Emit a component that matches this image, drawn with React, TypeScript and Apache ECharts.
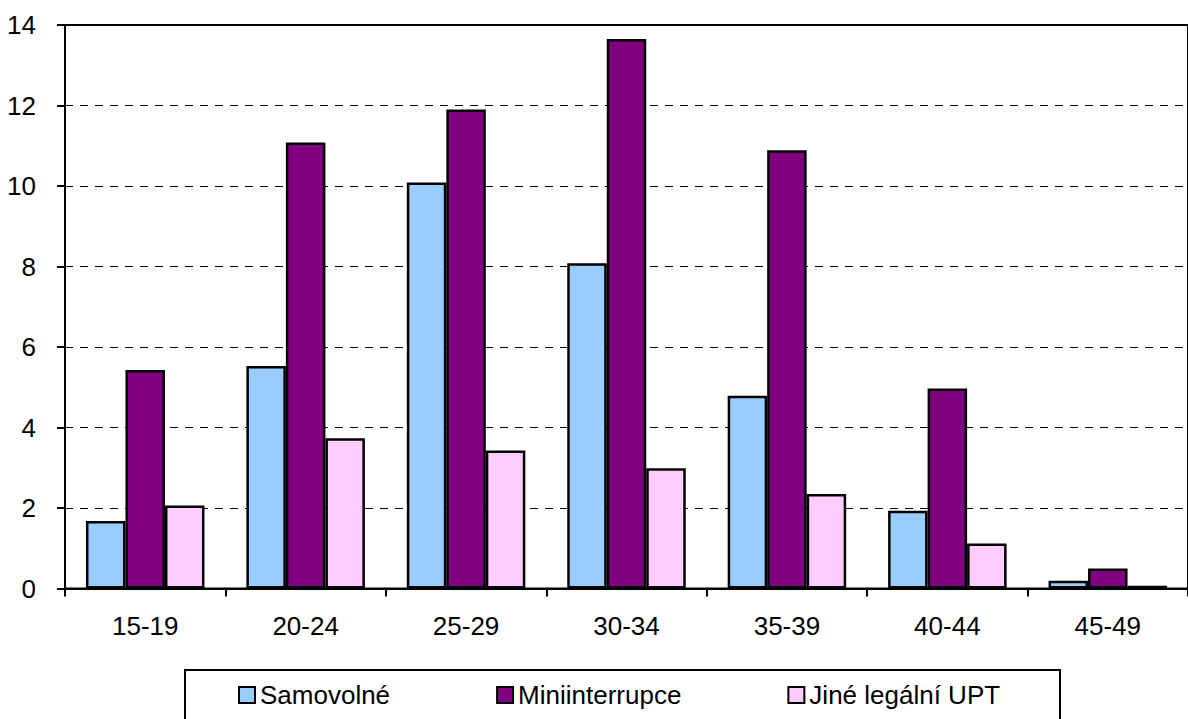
import React, { useEffect, useRef } from "react";
import * as echarts from "echarts";

const categories = ["15-19", "20-24", "25-29", "30-34", "35-39", "40-44", "45-49"];
const samovolne = [1.68, 5.53, 10.09, 8.08, 4.79, 1.93, 0.19];
const miniinterrupce = [5.43, 11.08, 11.9, 13.65, 10.89, 4.97, 0.5];
const jineLegalni = [2.06, 3.73, 3.43, 2.99, 2.35, 1.12, 0.07];
const seriesNames = ["Samovolné", "Miniinterrupce", "Jiné legální UPT"];
const seriesColors = ["#99CCFF", "#800080", "#FFCCFF"];

const FONT = "'Liberation Sans', Arial, sans-serif";

export default function App() {
  const ref = useRef<HTMLDivElement>(null);

  useEffect(() => {
    if (!ref.current) return;
    const chart = echarts.init(ref.current, null, { renderer: "svg" });
    const data = [samovolne, miniinterrupce, jineLegalni];
    chart.setOption({
      animation: false,
      backgroundColor: "#ffffff",
      textStyle: { fontFamily: FONT, color: "#000" },
      grid: {
        left: 65,
        top: 25,
        right: -6,
        bottom: 130.5,
        show: true,
        borderColor: "#000",
        borderWidth: 2,
        containLabel: false,
      },
      xAxis: {
        type: "category",
        data: categories,
        axisLine: { show: true, lineStyle: { color: "#000", width: 2 } },
        axisTick: { show: true, alignWithLabel: false, length: 8, lineStyle: { color: "#000", width: 2 } },
        axisLabel: { color: "#000", fontSize: 26, fontFamily: FONT, margin: 24 },
        splitLine: { show: false },
      },
      yAxis: {
        type: "value",
        min: 0,
        max: 14,
        interval: 2,
        axisLine: { show: true, lineStyle: { color: "#000", width: 2 } },
        axisTick: { show: true, length: 8, lineStyle: { color: "#000", width: 2 } },
        axisLabel: { color: "#000", fontSize: 26, fontFamily: FONT, margin: 29 },
        splitLine: { show: true, lineStyle: { color: "#000", width: 1, type: [8, 7] } },
      },
      legend: {
        show: true,
        left: 238,
        top: 682,
        padding: 0,
        itemGap: 106,
        itemWidth: 16,
        itemHeight: 16,
        icon: "rect",
        textStyle: { color: "#000", fontSize: 26, fontFamily: FONT, padding: [0, 0, 0, 0] },
        data: seriesNames,
      },
      graphic: [
        {
          type: "rect",
          shape: { x: 185, y: 670, width: 875, height: 90 },
          style: { fill: "none", stroke: "#000", lineWidth: 2 },
          silent: true,
        },
      ],
      series: data.map((d, i) => ({
        name: seriesNames[i],
        type: "bar",
        data: d,
        barWidth: 39.5,
        barGap: "0%",
        itemStyle: { color: seriesColors[i], borderColor: "#000", borderWidth: 2.5 },
      })),
    });
    return () => chart.dispose();
  }, []);

  return (
    <div
      ref={ref}
      style={{ position: "fixed", left: 0, top: 0, width: 1188, height: 719 }}
    />
  );
}
